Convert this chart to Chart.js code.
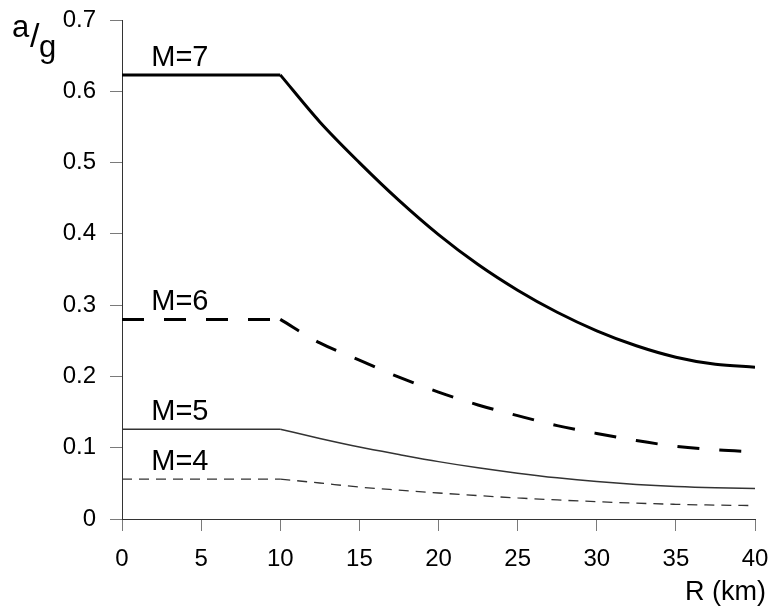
<!DOCTYPE html>
<html>
<head>
<meta charset="utf-8">
<script src="https://cdn.jsdelivr.net/npm/chart.js@4/dist/chart.umd.min.js"></script>
<style>
  html, body { margin: 0; padding: 0; background: #fff; }
  #wrap { width: 774px; height: 612px; }
</style>
</head>
<body>
<div id="wrap"><canvas id="c" width="774" height="612"></canvas></div>
<script>
// ---- data ----
const R = [0, 10, 12.5, 15, 17.5, 20, 22.5, 25, 27.5, 30, 32.5, 35, 37.5, 40];
const M7 = [0.623, 0.623, 0.557, 0.500, 0.447, 0.399, 0.357, 0.321, 0.290, 0.264, 0.243, 0.227, 0.217, 0.213];
const M6 = [0.280, 0.280, 0.247, 0.223, 0.199, 0.178, 0.160, 0.145, 0.131, 0.120, 0.110, 0.102, 0.097, 0.094];
const M5 = [0.126, 0.126, 0.113, 0.101, 0.0905, 0.0805, 0.0718, 0.0643, 0.0578, 0.0525, 0.0484, 0.0455, 0.0437, 0.0428];
const M4 = [0.056, 0.056, 0.0505, 0.0448, 0.0405, 0.0365, 0.0328, 0.0295, 0.0267, 0.0243, 0.0222, 0.0206, 0.0195, 0.0188];
const seriesNames = ['M=7', 'M=6', 'M=5', 'M=4'];
const kneeIndex = 1;           // index in R where the plateau ends (R = 10 km)
const labelR = 1.85;           // x position (km) where curve labels start
const xTicks = [0, 5, 10, 15, 20, 25, 30, 35, 40];
const yTicks = [0, 0.1, 0.2, 0.3, 0.4, 0.5, 0.6, 0.7];
const xTitle = 'R (km)';

const pts = (arr, a, b) => R.slice(a, b).map((r, i) => ({ x: r, y: arr[a + i] }));
const FONT = '"Liberation Sans", Arial, sans-serif';

const styles = [
  { color: '#000', width: 3, dash: [] },
  { color: '#000', width: 3, dash: [22, 20] },
  { color: '#333', width: 1.5, dash: [] },
  { color: '#333', width: 1.3, dash: [10, 7] }
];
const all = [M7, M6, M5, M4];

const datasets = [];
all.forEach((arr, i) => {
  const base = {
    borderColor: styles[i].color,
    borderWidth: styles[i].width,
    borderDash: styles[i].dash,
    pointRadius: 0,
    fill: false
  };
  // plateau part
  datasets.push(Object.assign({}, base, { label: seriesNames[i], data: pts(arr, 0, kneeIndex + 1), tension: 0 }));
  // decaying part
  datasets.push(Object.assign({}, base, { label: seriesNames[i] + ' ', data: pts(arr, kneeIndex, R.length), cubicInterpolationMode: 'monotone' }));
});

const textPlugin = {
  id: 'texts',
  afterDraw(chart) {
    const ctx = chart.ctx;
    const xs = chart.scales.x, ys = chart.scales.y;
    ctx.save();
    ctx.fillStyle = '#000';
    ctx.textBaseline = 'alphabetic';
    // curve labels
    ctx.font = '29px ' + FONT;
    ctx.textAlign = 'left';
    all.forEach((arr, i) => {
      const px = xs.getPixelForValue(labelR);
      const py = ys.getPixelForValue(arr[0]) - 9;
      ctx.fillText(seriesNames[i], px, py);
    });
    // y axis label a/g
    ctx.font = '31px ' + FONT;
    ctx.fillText('a', 12, 37);
    ctx.font = '34px ' + FONT;
    ctx.fillText('/', 30, 47);
    ctx.font = '31px ' + FONT;
    ctx.fillText('g', 39, 57);
    // x axis title
    ctx.font = '27px ' + FONT;
    ctx.textAlign = 'right';
    ctx.fillText(xTitle, 766, 600);
    ctx.restore();
  }
};

new Chart(document.getElementById('c'), {
  type: 'line',
  data: { datasets },
  options: {
    responsive: false,
    animation: false,
    devicePixelRatio: 1,
    layout: { padding: { top: 20, right: 19, left: 0, bottom: 0 } },
    plugins: { legend: { display: false }, tooltip: { enabled: false } },
    scales: {
      x: {
        type: 'linear', min: 0, max: 40,
        afterBuildTicks(s) { s.ticks = xTicks.map(v => ({ value: v })); },
        afterFit(s) { s.height = 93; s.paddingLeft = 0; s.paddingRight = 0; },
        grid: { drawOnChartArea: false, drawTicks: true, tickLength: 12, color: '#7a7a7a' },
        border: { display: true, color: '#333', width: 1 },
        ticks: { color: '#000', font: { family: FONT, size: 24 }, padding: 14, maxRotation: 0,
                 callback: v => String(v) }
      },
      y: {
        type: 'linear', min: 0, max: 0.7,
        afterBuildTicks(s) { s.ticks = yTicks.map(v => ({ value: v })); },
        afterFit(s) { s.width = 122; s.paddingTop = 0; s.paddingBottom = 0; },
        grid: { drawOnChartArea: false, drawTicks: true, tickLength: 12, color: '#7a7a7a' },
        border: { display: true, color: '#333', width: 1 },
        ticks: { color: '#000', font: { family: FONT, size: 24 }, padding: 14,
                 callback: v => String(Number(v.toFixed(1))) }
      }
    }
  },
  plugins: [textPlugin]
});
</script>
</body>
</html>
